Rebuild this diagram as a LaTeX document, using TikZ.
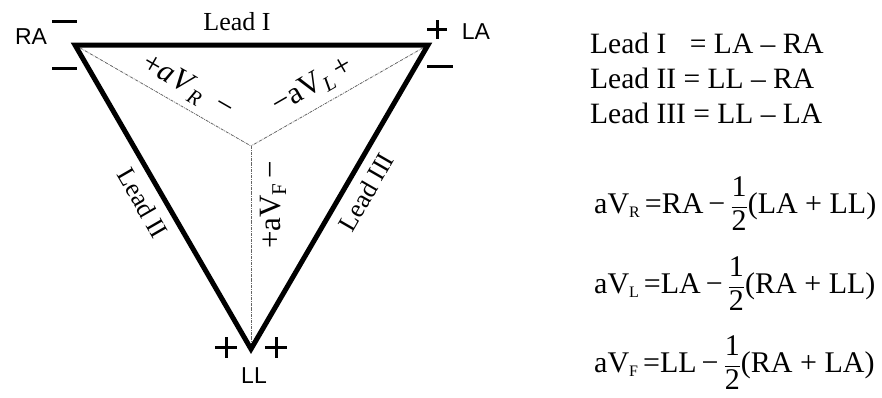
\documentclass[tikz,border=0pt]{standalone}
\usepackage{fontspec}
\setmainfont{Liberation Serif}
\newfontfamily\arialfont{Liberation Sans}
\newcommand{\sz}[1]{\fontsize{#1}{#1}\selectfont}
\newcommand{\lowsub}[1]{\raisebox{-0.35ex}{\sz{16}#1}}
\newcommand{\bigsub}[1]{\raisebox{-0.4ex}{\sz{21}#1}}
\newcommand{\half}{$\displaystyle\frac{\hbox{1}}{\hbox{2}}$}
\begin{document}
\begin{tikzpicture}[x=1pt,y=-1pt,
  leadline/.style={line width=5pt, line join=miter},
  augline/.style={line width=0.8pt, gray!80!black, densely dashdotted},
  polmark/.style={line width=3pt},
  elec/.style={font=\arialfont\sz{23}, inner sep=0pt},
  leadlbl/.style={font=\sz{26}, inner sep=0pt},
  auglbl/.style={font=\sz{31}, inner sep=0pt},
  eqn/.style={font=\sz{29.5}, inner sep=0pt, anchor=base west},
  eqb/.style={font=\sz{30}, inner sep=0pt, anchor=base west}]
\useasboundingbox (0,0) rectangle (882,397);
\fill[white] (0,0) rectangle (882,397);
\coordinate (RA) at (75,45);
\coordinate (LA) at (428,45);
\coordinate (LL) at (251,349);
\coordinate (C) at (251,146);
% augmented lead lines
\draw[augline] (RA) -- (C);
\draw[augline] (LA) -- (C);
\draw[augline] (C) -- (LL);
% triangle
\draw[leadline] (RA) -- (LA) -- (LL) -- cycle;
% polarity marks
\draw[polmark] (52,21) -- (77,21);
\draw[polmark] (52,68) -- (77,68);
\draw[polmark] (427,29.5) -- (447,29.5) (437,20) -- (437,39);
\draw[polmark] (427,66) -- (453,66);
\draw[polmark] (215,347.5) -- (237,347.5) (226,337) -- (226,358);
\draw[polmark] (265,347.5) -- (287,347.5) (276,337) -- (276,358);
% electrode labels
\node[elec] (tRA) at (31,37) {RA};
\node[elec] (tLA) at (476,32) {LA};
\node[elec] (tLL) at (254,376) {LL};
% lead labels
\node[leadlbl] (tL1) at (237,22) {Lead I};
\node[leadlbl, rotate=-60] (tL2) at (143,203) {Lead II};
\node[leadlbl, rotate=60] (tL3) at (366,192) {Lead III};
% augmented labels
\node[auglbl, rotate=-30] (tR) at (188,87) {+\textit{aV}\bigsub{\textit{R}}\ \ −};
\node[auglbl, rotate=30] (tLv) at (313,86) {−aV\bigsub{\textit{L}}\,+};
\node[auglbl, rotate=90] (tF) at (273,205) {+aV\bigsub{F}\,−};
% equations
\node[eqn] (e1) at (590,53) {Lead I\hspace{0.8em}= LA – RA};
\node[eqn] (e2) at (590,88) {Lead II\hspace{0.25em}= LL – RA};
\node[eqn] (e3) at (590,123) {Lead III = LL – LA};
\node[eqb] (f1) at (594,213) {aV\lowsub{R}\,=RA\,−\,\half(LA + LL)};
\node[eqb] (f2) at (594,293) {aV\lowsub{L}\,=LA\,−\,\half(RA + LL)};
\node[eqb] (f3) at (594,372) {aV\lowsub{F}\,=LL\,−\,\half(RA + LA)};
\end{tikzpicture}
\end{document}
